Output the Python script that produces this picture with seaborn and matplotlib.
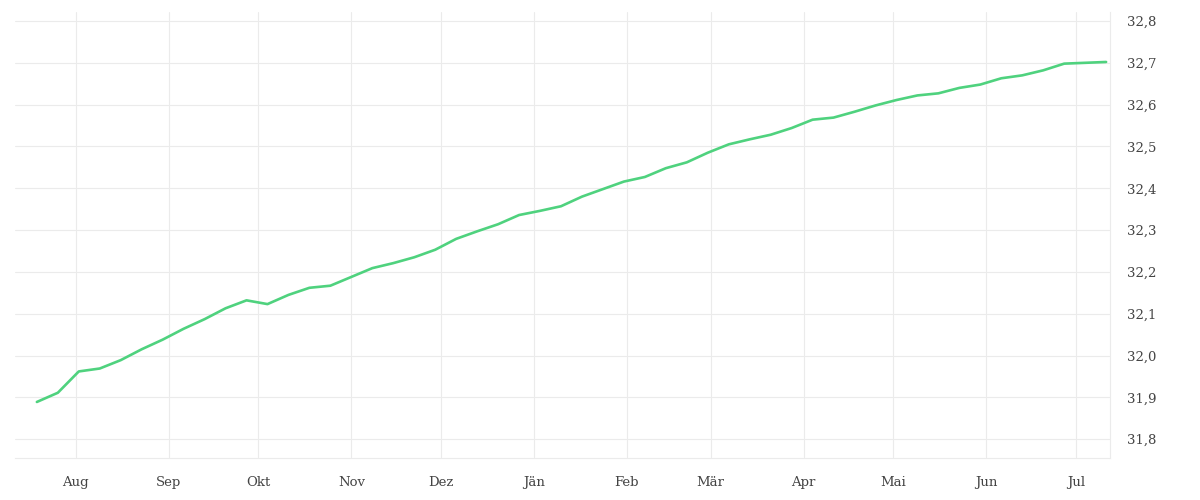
import pandas as pd
import seaborn as sns
import matplotlib.pyplot as plt

# Weekly values
start_date = "2022-07-19"
values = [
    31.889, 31.911, 31.962, 31.969, 31.989, 32.015, 32.038, 32.064, 32.087, 32.113,
    32.132, 32.123, 32.145, 32.162, 32.167, 32.188, 32.209, 32.221, 32.235, 32.253,
    32.279, 32.297, 32.314, 32.336, 32.346, 32.357, 32.380, 32.398, 32.416, 32.427,
    32.448, 32.462, 32.485, 32.505, 32.517, 32.528, 32.544, 32.564, 32.569, 32.583,
    32.598, 32.611, 32.622, 32.627, 32.640, 32.648, 32.663, 32.670, 32.682, 32.698,
    32.700, 32.702,
]
month_labels = ["Aug", "Sep", "Okt", "Nov", "Dez", "Jän", "Feb", "Mär", "Apr", "Mai", "Jun", "Jul"]
y_ticks = [31.8, 31.9, 32.0, 32.1, 32.2, 32.3, 32.4, 32.5, 32.6, 32.7, 32.8]

df = pd.DataFrame({
    "date": pd.date_range(start_date, periods=len(values), freq="7D"),
    "value": values,
})
month_starts = pd.date_range("2022-08-01", periods=len(month_labels), freq="MS")

sns.set_style("white")
plt.rcParams["font.family"] = ["DejaVu Serif", "DejaVu Sans"]

grid_col = "#ebebeb"
text_col = "#444444"

fig = plt.figure(figsize=(12, 5), dpi=100)
ax = fig.add_axes([0.0125, 0.084, 0.9125, 0.892])

sns.lineplot(data=df, x="date", y="value", color="#4fd27e", linewidth=1.9, ax=ax)

# Axes limits
ax.set_xlim(df["date"].iloc[0] - pd.Timedelta(days=7.3),
            df["date"].iloc[-1] + pd.Timedelta(days=1.3))
ax.set_ylim(31.755, 32.8215)

# Ticks and labels
ax.set_xticks(month_starts)
ax.set_xticklabels(month_labels)
ax.set_yticks(y_ticks)
ax.set_yticklabels([f"{v:.1f}".replace(".", ",") for v in y_ticks])
ax.yaxis.tick_right()
ax.tick_params(axis="x", length=7.2, width=0.8, color=grid_col, pad=6,
               labelsize=9.5, labelcolor=text_col)
ax.tick_params(axis="y", length=0, pad=12, labelsize=9.5, labelcolor=text_col)

# Grid and frame
ax.grid(True, color=grid_col, linewidth=0.8)
ax.set_axisbelow(True)
for side in ["left", "top"]:
    ax.spines[side].set_visible(False)
for side in ["right", "bottom"]:
    ax.spines[side].set_color(grid_col)
    ax.spines[side].set_linewidth(0.8)

ax.set_xlabel("")
ax.set_ylabel("")

fig.savefig("out.png", dpi=100)
